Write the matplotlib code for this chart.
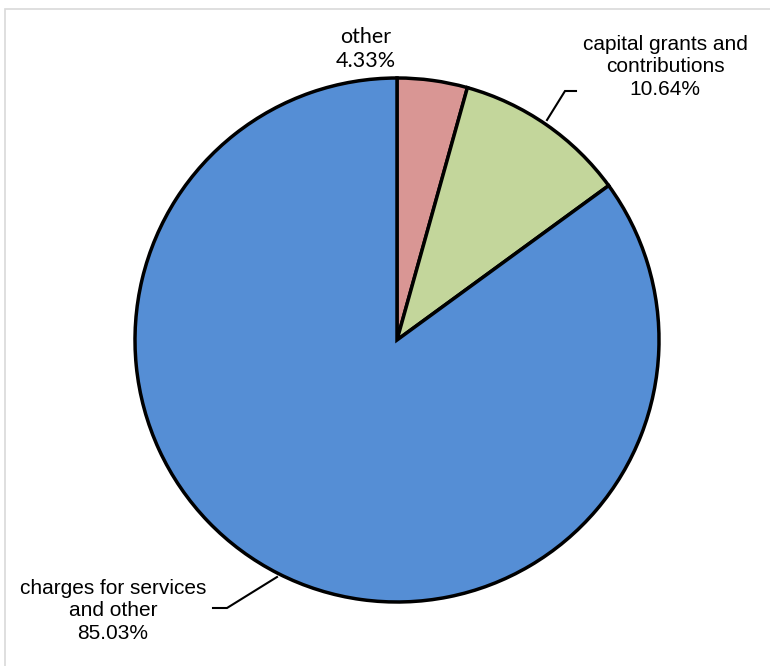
import matplotlib
matplotlib.use("Agg")
import matplotlib.pyplot as plt
from matplotlib.patches import Rectangle

# data
labels = ["other", "capital grants and\ncontributions", "charges for services\nand other"]
shares = [4.33, 10.64, 85.03]
colors = ["#D99694", "#C3D69B", "#558ED5"]


def main():
    W, H = 770, 666
    fig = plt.figure(figsize=(W / 100, H / 100), dpi=100)
    ax = fig.add_axes([0, 0, 1, 1])

    # light grey chart-area border (runs off the right/bottom edges)
    fig.patches.append(Rectangle((5 / W, -0.1), 1.2, 1 - 9 / H + 0.1,
                                 transform=fig.transFigure, fill=False,
                                 edgecolor="#D9D9D9", linewidth=1.2))

    cx, cy, r = 397, H - 340, 262
    ax.pie(shares, colors=colors, startangle=90, counterclock=False,
           center=(cx, cy), radius=r,
           wedgeprops=dict(edgecolor="black", linewidth=2.5))
    ax.set_xlim(0, W)
    ax.set_ylim(0, H)
    ax.set_aspect("equal")
    ax.axis("off")

    fs = 15
    ax.text(366, H - 49, f"{labels[0]}\n{shares[0]:.2f}%", ha="center", va="center",
            fontsize=15.5, family=["Lato", "DejaVu Sans"], linespacing=1.3)
    ax.text(665, H - 67, f"{labels[1]}\n{shares[1]:.2f}%", ha="center", va="center",
            fontsize=fs, family=["Liberation Sans", "DejaVu Sans"], linespacing=1.25)
    ax.text(113, H - 611, f"{labels[2]}\n{shares[2]:.2f}%", ha="center", va="center",
            fontsize=fs, family=["Liberation Sans", "DejaVu Sans"], linespacing=1.25)

    # leader lines
    ax.plot([547, 565, 576], [H - 120, H - 91, H - 91], color="black", lw=1.5,
            solid_joinstyle="miter")
    ax.plot([213, 227, 277], [H - 608, H - 608, H - 577], color="black", lw=1.5,
            solid_joinstyle="miter")

    fig.savefig("out.png", dpi=100)


if __name__ == "__main__":
    main()
